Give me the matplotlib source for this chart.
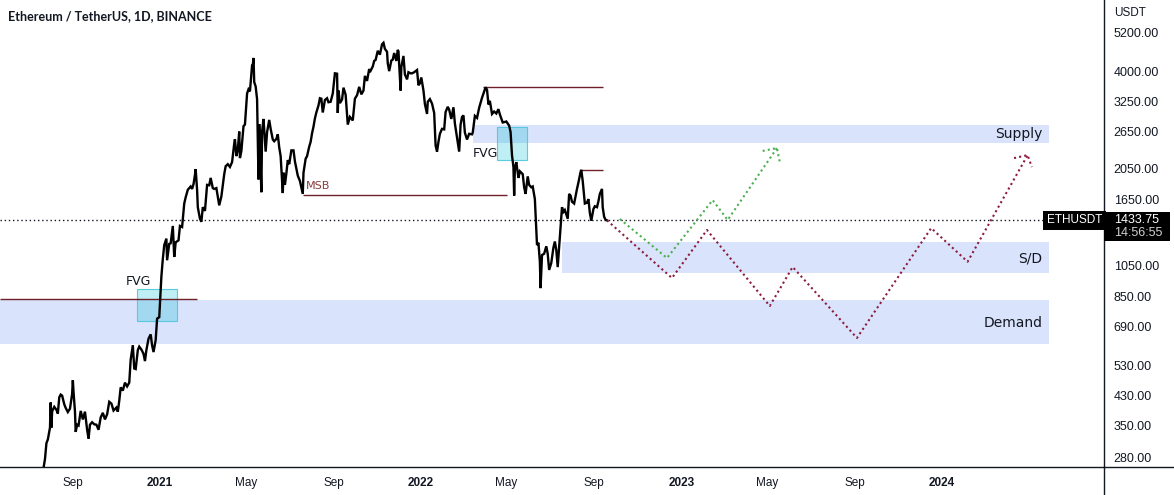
import matplotlib
matplotlib.use("Agg")
import matplotlib.pyplot as plt
import matplotlib.dates as mdates
import matplotlib.transforms as mtransforms
from matplotlib.patches import Rectangle
from matplotlib.lines import Line2D
import pandas as pd

# ---------------- data ----------------
price_dates = [
 "2020-07-22","2020-07-24","2020-07-26","2020-07-28","2020-07-31","2020-08-01","2020-08-02","2020-08-03",
 "2020-08-06","2020-08-09","2020-08-11","2020-08-13","2020-08-15","2020-08-17","2020-08-20","2020-08-22",
 "2020-08-25","2020-08-28","2020-08-31","2020-09-01","2020-09-02","2020-09-04","2020-09-05","2020-09-07",
 "2020-09-09","2020-09-12","2020-09-15","2020-09-18","2020-09-21","2020-09-23","2020-09-25","2020-09-28",
 "2020-10-01","2020-10-04","2020-10-07","2020-10-10","2020-10-13","2020-10-16","2020-10-19","2020-10-22",
 "2020-10-25","2020-10-28","2020-11-01","2020-11-03","2020-11-05","2020-11-07","2020-11-10","2020-11-13",
 "2020-11-16","2020-11-19","2020-11-21","2020-11-24","2020-11-26","2020-11-28","2020-12-01","2020-12-03",
 "2020-12-06","2020-12-09","2020-12-11","2020-12-13","2020-12-16","2020-12-19","2020-12-21","2020-12-23",
 "2020-12-26","2020-12-28","2020-12-31",
 "2021-01-03","2021-01-05","2021-01-07","2021-01-10","2021-01-11","2021-01-14","2021-01-16","2021-01-19",
 "2021-01-21","2021-01-23","2021-01-27","2021-01-29","2021-02-01","2021-02-04","2021-02-06","2021-02-09",
 "2021-02-13","2021-02-15","2021-02-17","2021-02-19","2021-02-20","2021-02-22","2021-02-23","2021-02-26",
 "2021-02-28","2021-03-02","2021-03-05","2021-03-08","2021-03-11","2021-03-13","2021-03-16","2021-03-18",
 "2021-03-21","2021-03-25","2021-03-28","2021-04-01","2021-04-03","2021-04-06","2021-04-09","2021-04-12",
 "2021-04-15","2021-04-16","2021-04-18","2021-04-20","2021-04-22","2021-04-23","2021-04-25","2021-04-28",
 "2021-04-30","2021-05-03","2021-05-05","2021-05-07","2021-05-09","2021-05-10","2021-05-11","2021-05-12",
 "2021-05-13","2021-05-15","2021-05-17","2021-05-19","2021-05-20","2021-05-21","2021-05-23","2021-05-24",
 "2021-05-26","2021-05-29","2021-05-31","2021-06-03","2021-06-05","2021-06-08","2021-06-10","2021-06-13",
 "2021-06-15","2021-06-17","2021-06-19","2021-06-22","2021-06-23","2021-06-25","2021-06-27","2021-06-29",
 "2021-07-01","2021-07-04","2021-07-07","2021-07-09","2021-07-13","2021-07-16","2021-07-20","2021-07-21",
 "2021-07-24","2021-07-26","2021-07-29","2021-07-31","2021-08-02","2021-08-04","2021-08-06","2021-08-08",
 "2021-08-11","2021-08-13","2021-08-15","2021-08-17","2021-08-20","2021-08-23","2021-08-25","2021-08-28",
 "2021-08-31","2021-09-03","2021-09-06","2021-09-07","2021-09-08","2021-09-10","2021-09-13","2021-09-15",
 "2021-09-18","2021-09-21","2021-09-24","2021-09-28","2021-10-01","2021-10-04","2021-10-07","2021-10-10",
 "2021-10-13","2021-10-15","2021-10-18","2021-10-21","2021-10-22","2021-10-26","2021-10-28","2021-10-30",
 "2021-11-02","2021-11-05","2021-11-08","2021-11-10","2021-11-12","2021-11-15","2021-11-16","2021-11-18",
 "2021-11-21","2021-11-23","2021-11-25","2021-11-28","2021-11-30","2021-12-01","2021-12-04","2021-12-05",
 "2021-12-08","2021-12-10","2021-12-13","2021-12-15","2021-12-18","2021-12-20","2021-12-23","2021-12-27",
 "2021-12-29","2021-12-31",
 "2022-01-02","2022-01-05","2022-01-07","2022-01-10","2022-01-11","2022-01-14","2022-01-17","2022-01-20",
 "2022-01-22","2022-01-24","2022-01-26","2022-01-28","2022-01-31","2022-02-03","2022-02-05","2022-02-08",
 "2022-02-10","2022-02-13","2022-02-16","2022-02-18","2022-02-20","2022-02-24","2022-02-26","2022-02-28",
 "2022-03-02","2022-03-04","2022-03-07","2022-03-10","2022-03-14","2022-03-15","2022-03-18","2022-03-21",
 "2022-03-24","2022-03-28","2022-04-02","2022-04-04","2022-04-06","2022-04-08","2022-04-11","2022-04-14",
 "2022-04-17","2022-04-20","2022-04-22","2022-04-26","2022-04-29","2022-05-01","2022-05-05","2022-05-07",
 "2022-05-09","2022-05-11","2022-05-12","2022-05-13","2022-05-15","2022-05-18","2022-05-20","2022-05-24",
 "2022-05-26","2022-05-28","2022-05-31","2022-06-02","2022-06-05","2022-06-07","2022-06-10","2022-06-13",
 "2022-06-15","2022-06-17","2022-06-18","2022-06-20","2022-06-23","2022-06-26","2022-06-28","2022-06-30",
 "2022-07-03","2022-07-06","2022-07-08","2022-07-10","2022-07-12","2022-07-14","2022-07-16","2022-07-18",
 "2022-07-20","2022-07-22","2022-07-26","2022-07-28","2022-07-30","2022-08-01","2022-08-04","2022-08-08",
 "2022-08-10","2022-08-13","2022-08-14","2022-08-16","2022-08-19","2022-08-22","2022-08-24","2022-08-26",
 "2022-08-28","2022-08-31","2022-09-02","2022-09-05","2022-09-07","2022-09-09","2022-09-12","2022-09-13",
 "2022-09-15","2022-09-17","2022-09-19",
]
price_values = [
 262,278,310,318,345,410,345,386,
 398,390,380,425,433,430,405,395,
 384,393,435,478,440,385,335,352,
 350,387,365,385,340,320,352,358,
 353,352,340,370,382,365,378,412,
 407,388,396,385,415,455,445,470,
 458,470,550,608,518,516,588,602,
 590,573,545,588,636,655,607,580,
 630,730,737,
 975,1100,1210,1265,1090,1220,1225,1380,
 1115,1233,1250,1380,1370,1610,1680,1770,
 1810,1780,1840,1960,2040,1770,1570,1450,
 1420,1570,1530,1830,1825,1920,1790,1780,
 1790,1590,1690,1970,2080,2110,2070,2140,
 2430,2505,2230,2330,2640,2200,2310,2740,
 2770,3430,3530,3480,3900,4160,4170,4380,
 3710,3600,3300,1900,2780,2440,1740,2640,
 2880,2300,2630,2860,2690,2500,2470,2510,
 2590,2370,2230,1730,1990,1830,1980,2170,
 2110,2320,2320,2150,1950,1880,1720,1990,
 2190,2230,2380,2460,2610,2730,2890,3010,
 3160,3320,3310,3010,3280,3320,3230,3240,
 3430,3940,3930,3000,3500,3210,3290,3570,
 3400,2770,2920,2850,3310,3390,3590,3410,
 3500,3870,3740,4060,3970,4130,4290,4320,
 4600,4480,4810,4860,4660,4570,4220,4000,
 4300,4330,4530,4290,4630,4580,3500,4110,
 4440,3910,3780,3970,3940,3940,3970,4030,
 3630,3680,
 3830,3500,3190,2980,3240,3300,3200,3000,
 2400,2300,2460,2600,2690,2680,3020,3130,
 3070,2880,3120,2790,2620,2300,2770,2920,
 2950,2620,2500,2600,2590,2620,2940,2900,
 3110,3330,3580,3520,3180,3260,2980,3030,
 2990,3080,2970,2810,2820,2830,2750,2630,
 2240,2070,1700,2050,2140,1920,2010,1970,
 1800,1720,1940,1830,1800,1810,1660,1210,
 1230,1080,900,1130,1140,1200,1140,1020,
 1070,1190,1240,1170,1040,1190,1360,1570,
 1520,1540,1450,1720,1700,1630,1610,1780,
 1860,2000,2030,1880,1610,1620,1660,1510,
 1430,1550,1580,1570,1635,1720,1780,1570,
 1470,1440,1434,
]
current_price = 1433.75

# projection paths
green_dates = ["2022-10-07","2022-12-12","2023-02-14","2023-03-07","2023-05-15"]
green_values = [1448,1107,1648,1438,2357]
green_arrow_dates = ["2023-04-25","2023-05-15","2023-05-19"]
green_arrow_values = [2311,2357,2142]

red_dates = ["2022-09-19","2022-12-19","2023-02-06","2023-05-05","2023-06-06",
             "2023-09-04","2023-12-17","2024-02-06","2024-04-30"]
red_values = [1434,965,1342,796,1041,639,1360,1079,2245]
red_arrow_dates = ["2024-04-11","2024-04-30","2024-05-06"]
red_arrow_values = [2200,2245,2068]

# zones (start, end, low, high)
zone_names = ["Supply","S/D","Demand"]
zone_starts = ["2022-03-15","2022-07-18","2020-05-22"]
zone_ends = ["2024-05-30","2024-05-30","2024-05-30"]
zone_lows = [2439,998,613]
zone_highs = [2761,1236,829]
zone_label_prices = [2598,1107,708]

fvg_starts = ["2020-11-30","2022-04-18"]
fvg_ends = ["2021-01-25","2022-05-30"]
fvg_lows = [718,2170]
fvg_highs = [895,2723]
fvg_label_dates = ["2020-11-14","2022-03-15"]
fvg_label_prices = [939,2277]

level_starts = ["2020-05-22","2021-07-20","2022-03-29","2022-08-13"]
level_ends = ["2021-02-22","2022-05-02","2022-09-13","2022-09-13"]
level_prices = [835,1708,3585,2026]

y_ticks = [280,350,430,530,690,850,1050,1650,2050,2650,3250,4000,5200]
x_tick_dates = ["2020-09-01","2021-01-01","2021-05-01","2021-09-01","2022-01-01","2022-05-01",
                "2022-09-01","2023-01-01","2023-05-01","2023-09-01","2024-01-01"]
x_tick_labels = ["Sep","2021","May","Sep","2022","May","Sep","2023","May","Sep","2024"]

D = pd.to_datetime

# ---------------- figure ----------------
W, H = 1174, 495
fig = plt.figure(figsize=(W/100, H/100), dpi=100)
ax_w, ax_h = 1104, 467
ax = fig.add_axes([0, (H-ax_h)/H, ax_w/W, ax_h/H])
ax.set_yscale("log")
ax.set_xlim(D("2020-05-22"), D("2024-08-15"))
ax.set_ylim(263.2, 6522)

band_col = "#d9e3fc"
for s, e, lo, hi in zip(zone_starts, zone_ends, zone_lows, zone_highs):
    ax.fill_between([D(s), D(e)], [lo, lo], [hi, hi], color=band_col, lw=0, zorder=1)

for s, e, lo, hi in zip(fvg_starts, fvg_ends, fvg_lows, fvg_highs):
    x0 = mdates.date2num(D(s)); x1 = mdates.date2num(D(e))
    ax.add_patch(Rectangle((x0, lo), x1-x0, hi-lo, facecolor=(0.0, 0.74, 0.83, 0.25),
                           edgecolor=(0.3, 0.78, 0.86, 0.9), lw=0.8, zorder=2))

for t, p in zip(fvg_label_dates, fvg_label_prices):
    ax.text(D(t), p, "FVG", fontsize=9, color="#131722", va="center", ha="left",
            family="DejaVu Sans", zorder=5)

for s, e, p in zip(level_starts, level_ends, level_prices):
    ax.hlines(p, D(s), D(e), color="#6e1f2a", lw=1.0, zorder=3)
ax.text(D("2021-07-24"), 1817, "MSB", fontsize=8, color="#8a3b3b", va="center", ha="left",
        family="DejaVu Sans", zorder=5)

ax.axhline(current_price, color="#131722", lw=1.0, ls=(0, (1, 2)), zorder=3)

ax.plot(D(price_dates), price_values, color="black", lw=1.7, zorder=4, solid_joinstyle="miter")

gcol = "#4caf50"
rcol = "#8c1c3c"
dots = (0, (1, 1.5))
ax.plot(D(green_dates), green_values, color=gcol, lw=1.5, ls=dots, zorder=4)
ax.plot(D(green_arrow_dates), green_arrow_values, color=gcol, lw=1.5, ls=dots, zorder=4)
ax.plot(D(red_dates), red_values, color=rcol, lw=1.5, ls=dots, zorder=4)
ax.plot(D(red_arrow_dates), red_arrow_values, color=rcol, lw=1.5, ls=dots, zorder=4)

for name, p in zip(zone_names, zone_label_prices):
    ax.text(D("2024-05-21"), p, name, fontsize=10, color="#131722", ha="right", va="center",
            family="DejaVu Sans", zorder=5)

# axes styling
for sp in ["top", "left"]:
    ax.spines[sp].set_visible(False)
for sp in ["right", "bottom"]:
    ax.spines[sp].set_color("#131722")
    ax.spines[sp].set_linewidth(1.0)

ax.yaxis.tick_right()
ax.yaxis.set_minor_locator(matplotlib.ticker.NullLocator())
ax.set_yticks(y_ticks)
ax.set_yticklabels([f"{v:.2f}" for v in y_ticks], fontsize=9, color="#131722",
                   family="Liberation Sans")
ax.tick_params(axis="y", length=0, pad=7)

ax.set_xticks(D(x_tick_dates))
ax.set_xticklabels(x_tick_labels, fontsize=8.5, color="#131722",
                   family=["Liberation Sans Narrow", "Liberation Sans", "DejaVu Sans"])
for lab in ax.get_xticklabels():
    if lab.get_text().isdigit():
        lab.set_fontweight("bold")
ax.xaxis.set_minor_locator(matplotlib.ticker.NullLocator())
ax.tick_params(axis="x", length=0, pad=7)

# extended scale lines
fig.add_artist(Line2D([ax_w/W, 1], [(H-ax_h)/H]*2, color="#131722", lw=1.0, transform=fig.transFigure))
fig.add_artist(Line2D([ax_w/W]*2, [0, (H-ax_h)/H], color="#131722", lw=1.0, transform=fig.transFigure))

# price scale header
fig.text(1114/W, 1-13/H, "USDT", fontsize=8.5, color="#131722", va="center", ha="left",
         family="Liberation Sans")

# labels for current price
blend = mtransforms.blended_transform_factory(ax.transAxes, ax.transData)
ax.text(0.9985, current_price, "ETHUSDT", transform=blend, fontsize=8.5, color="white",
        ha="right", va="center", family="Liberation Sans", zorder=6,
        bbox=dict(boxstyle="square,pad=0.3", facecolor="black", edgecolor="none"))
ax.add_patch(Rectangle((1.0, 1244), 66/ax_w, 1518-1244, transform=blend, facecolor="black",
                       edgecolor="none", clip_on=False, zorder=6))
ax.text(1.009, 1440, f"{current_price:.2f}", transform=blend, fontsize=9, color="white",
        ha="left", va="center", family="Liberation Sans", zorder=7, clip_on=False)
ax.text(1.009, 1313, "14:56:55", transform=blend, fontsize=9, color="#d0d0d0",
        ha="left", va="center", family="Liberation Sans", zorder=7, clip_on=False)

fig.text(8/W, 1-16/H, "Ethereum / TetherUS, 1D, BINANCE", fontsize=9, fontweight="bold",
         color="#131722", va="center", ha="left", family="Lato")

fig.savefig("out.png", dpi=100)
